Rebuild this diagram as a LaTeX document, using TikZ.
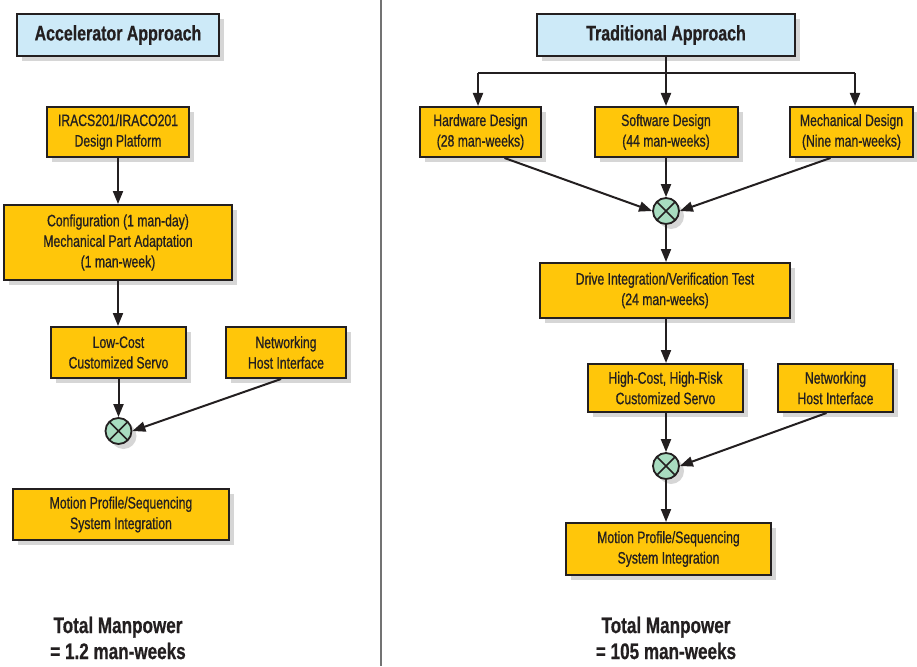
\documentclass[tikz,border=0pt]{standalone}
\usepackage{fontspec}
\setmainfont{Liberation Sans}[FakeStretch=0.78]
\newfontfamily\boxfont{Liberation Sans}[FakeStretch=0.74,FakeBold=0.7]
\newfontfamily\headfont{Liberation Sans Bold}[FakeStretch=0.76,FakeBold=0.6]
\usetikzlibrary{arrows.meta,shadows}
\definecolor{boxyellow}{HTML}{FFC60A}
\definecolor{boxblue}{HTML}{CDEAF8}
\definecolor{mixgreen}{HTML}{A8DCC0}
\definecolor{ink}{HTML}{231F20}
\tikzset{
  shade/.style={drop shadow={shadow xshift=5pt,shadow yshift=-5pt,fill=black!20,opacity=0.8}},
  stepbox/.style={draw=ink,line width=2pt,fill=boxyellow,shade,align=center,inner sep=0pt,
     font=\boxfont\fontsize{16.5}{20.5}\selectfont,text=ink},
  titlebox/.style={draw=ink,line width=2pt,fill=boxblue,shade,align=center,inner sep=0pt,
     font=\headfont\fontsize{21}{24}\selectfont,text=ink},
  mixer/.style={circle,draw=ink,line width=1.8pt,fill=mixgreen,minimum size=26pt,inner sep=0pt,shade,
     path picture={\draw[ink,line width=1.6pt] (path picture bounding box.south west)--(path picture bounding box.north east)
        (path picture bounding box.north west)--(path picture bounding box.south east);}},
  flow/.style={ink,line width=2pt,-{Triangle[length=13pt,width=10pt]}},
  plain/.style={ink,line width=2pt},
  total/.style={align=center,font=\headfont\fontsize{22.5}{26}\selectfont,text=ink},
}
\begin{document}
\begin{tikzpicture}[x=1pt,y=-1pt]
\useasboundingbox (0,0) rectangle (917,666);
% divider
\draw[black!55,line width=1.6pt] (381,0) -- (381,666);

% ---------- Accelerator approach ----------
\node[titlebox,minimum width=202pt,minimum height=42pt] (acc) at (118,35) {Accelerator Approach};
\node[stepbox,minimum width=142pt,minimum height=50pt] (ira) at (118,132) {IRACS201/IRACO201\\Design Platform};
\node[stepbox,minimum width=228pt,minimum height=75pt] (cfg) at (118,242.5) {Configuration (1 man-day)\\Mechanical Part Adaptation\\(1 man-week)};
\node[stepbox,minimum width=135pt,minimum height=51pt] (low) at (118.5,352.5) {Low-Cost\\Customized Servo};
\node[stepbox,minimum width=120pt,minimum height=51pt] (netl) at (286,352.5) {Networking\\Host Interface};
\node[mixer] (xl) at (118.5,431) {};
\node[stepbox,minimum width=216pt,minimum height=51pt] (mpl) at (121,514.5) {Motion Profile/Sequencing\\System Integration};
\node[total] (totl) at (118,638) {Total Manpower\\= 1.2 man-weeks};

\draw[flow] (ira.south) -- (ira.south |- cfg.north);
\draw[flow] (ira.south |- cfg.south) -- (ira.south |- low.north);
\draw[flow] (low.south) -- (xl.north);
\coordinate (netlo) at ([xshift=-5pt]netl.south);
\draw[flow] (netlo) -- (xl.east);

% ---------- Traditional approach ----------
\node[titlebox,minimum width=258pt,minimum height=42pt] (trad) at (666,35) {Traditional Approach};
\node[stepbox,minimum width=121pt,minimum height=50pt] (hw) at (480.5,132) {Hardware Design\\(28 man-weeks)};
\node[stepbox,minimum width=143pt,minimum height=50pt] (sw) at (666,132) {Software Design\\(44 man-weeks)};
\node[stepbox,minimum width=123pt,minimum height=50pt] (mech) at (851.5,132) {Mechanical Design\\(Nine man-weeks)};
\node[mixer] (xa) at (666,211) {};
\node[stepbox,minimum width=250pt,minimum height=55pt] (drv) at (665,290.5) {Drive Integration/Verification Test\\(24 man-weeks)};
\node[stepbox,minimum width=155pt,minimum height=48pt] (hc) at (665.5,388) {High-Cost, High-Risk\\Customized Servo};
\node[stepbox,minimum width=115pt,minimum height=48pt] (netr) at (835.5,388) {Networking\\Host Interface};
\node[mixer] (xb) at (666,466) {};
\node[stepbox,minimum width=205pt,minimum height=52pt] (mpr) at (668.5,549) {Motion Profile/Sequencing\\System Integration};
\node[total] (totr) at (666,638) {Total Manpower\\= 105 man-weeks};

\coordinate (split) at (666,73);
\coordinate (splitl) at (478,73);
\coordinate (splitr) at (855,73);
\draw[plain] (trad.south) -- (split);
\draw[plain] (splitl) -- (splitr);
\draw[flow] (splitl) -- (splitl |- hw.north);
\draw[flow] (split) -- (split |- sw.north);
\draw[flow] (splitr) -- (splitr |- mech.north);

\coordinate (hwo) at ([xshift=24pt]hw.south);
\coordinate (mecho) at ([xshift=-21pt]mech.south);
\draw[flow] (hwo) -- (xa.west);
\draw[flow] (sw.south) -- (xa.north);
\draw[flow] (mecho) -- (xa.east);
\draw[flow] (xa.south) -- (xa |- drv.north);
\draw[flow] (xa |- drv.south) -- (xa |- hc.north);
\draw[flow] (xa |- hc.south) -- (xb.north);
\coordinate (netro) at ([xshift=-9pt]netr.south);
\draw[flow] (netro) -- (xb.east);
\draw[flow] (xb.south) -- (xb |- mpr.north);
\end{tikzpicture}
\end{document}
